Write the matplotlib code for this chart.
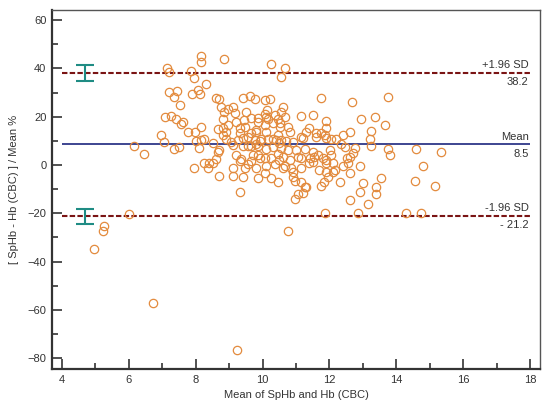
import matplotlib
matplotlib.use("Agg")
import matplotlib.pyplot as plt
from matplotlib.ticker import MultipleLocator

plt.rcParams['font.family'] = ['Liberation Sans', 'DejaVu Sans']

# Bland-Altman points: mean of SpHb and Hb (CBC), percent difference
x_mean = [6.14, 6.46, 7.14, 7.21, 7.19, 7.44, 7.36, 7.54, 7.09, 7.26,
          7.41, 7.61, 7.56, 6.96, 7.04, 7.36, 7.51, 7.86, 7.94, 8.16,
          8.16, 8.86, 7.89, 8.07, 8.12, 8.31, 7.77, 7.97, 8.16, 8.02,
          8.11, 8.26, 7.96, 8.26, 8.39, 8.36, 8.51, 8.61, 8.66, 8.51,
          8.71, 8.61, 8.71, 8.76, 8.86, 8.81, 8.96, 9.11, 8.96, 9.19,
          8.66, 8.81, 8.91, 9.04, 9.11, 9.21, 9.26, 9.31, 9.31, 9.44,
          9.51, 9.41, 9.61, 9.76, 9.11, 9.11, 9.31, 9.46, 9.56, 9.66,
          9.56, 9.66, 9.81, 9.71, 9.86, 9.56, 9.81, 9.66, 9.86, 9.31,
          9.86, 10.06, 10.26, 10.14, 10.10, 8.81, 8.91, 8.16, 10.66, 10.56,
          11.76, 12.66, 13.76, 10.61, 10.54, 11.16, 11.51, 11.91, 12.95, 13.35,
          13.65, 13.25, 11.91, 11.40, 11.31, 11.61, 11.76, 11.86, 11.16, 12.06,
          12.21, 12.40, 12.60, 13.20, 13.25, 12.35, 12.45, 12.75, 13.75, 13.80,
          14.60, 15.35, 10.76, 11.55, 11.50, 11.70, 11.90, 12.10, 12.10, 12.40,
          12.55, 12.60, 12.70, 12.90, 12.60, 13.00, 12.90, 12.60, 13.15, 13.40,
          13.40, 13.55, 14.55, 14.80, 15.15, 11.76, 11.85, 11.16, 11.26, 11.21,
          11.06, 10.96, 10.46, 12.31, 11.86, 12.85, 14.30, 14.75, 10.76, 5.99,
          5.27, 5.22, 4.97, 6.71, 9.22, 9.36, 9.41, 10.06, 10.26, 10.11,
          10.06, 10.26, 10.48, 10.61, 10.66, 10.84, 10.92, 10.96, 11.31, 11.91,
          11.95, 11.16, 11.40, 10.21, 9.16, 10.06, 10.36, 10.16, 10.46, 10.66,
          10.51, 10.31, 10.06, 9.86, 9.46, 9.66, 9.81, 10.11, 10.51, 10.81,
          10.46, 10.31, 10.56, 9.96, 9.76, 9.41, 11.91, 9.91, 10.16, 10.41,
          10.71, 10.91, 11.21, 11.61, 9.41, 9.86, 10.11, 10.31, 10.56, 10.76,
          11.01, 11.26, 11.51, 11.66, 11.81, 9.91, 10.46, 10.61, 10.81, 11.06,
          11.16, 11.41, 9.81, 10.36, 10.91, 8.71, 11.91, 12.01, 12.06, 12.16,
          12.51, 10.50]
y_diff = [7.9, 4.4, 40.3, 38.6, 30.4, 30.8, 28.3, 24.8, 19.7, 20.4,
          18.9, 17.9, 16.9, 12.4, 9.6, 6.6, 7.6, 39.0, 36.2, 45.1,
          42.8, 43.8, 29.3, 31.1, 29.3, 33.5, 13.8, 13.8, 15.6, 9.9,
          7.2, 10.6, -1.4, 1.0, 0.7, -1.4, 1.0, 2.4, 5.5, 9.0,
          -4.6, 27.6, 27.2, 23.9, 21.8, 19.0, 23.2, 23.9, 16.6, 17.9,
          14.8, 12.4, 10.8, 9.6, 8.3, 4.1, 10.4, 13.4, 15.2, 18.6,
          21.8, 27.6, 28.7, 27.3, -1.4, -4.4, 1.8, -1.4, 0.4, 1.8,
          8.0, 8.0, 8.7, 4.1, 4.1, 11.7, 14.5, 19.3, 19.3, -11.1,
          -5.5, 26.9, 41.8, 22.8, 20.0, 15.5, 13.5, 10.4, 40.0, 36.6,
          27.9, 26.0, 28.3, 24.1, 22.1, 20.3, 20.7, 18.3, 19.0, 19.7,
          16.6, 14.2, 15.2, 15.5, 13.8, 13.1, 13.1, 12.4, 11.7, 10.6,
          10.6, 12.4, 13.8, 10.6, 8.0, 8.7, 7.6, 6.9, 6.5, 4.1,
          6.5, 5.5, 15.9, 3.4, 1.4, -2.1, 0.8, 0.9, -3.0, -0.3,
          0.7, 3.4, 4.8, -0.3, -3.4, -7.6, -11.1, -14.5, -16.1, -9.2,
          -12.0, -5.5, -6.5, -0.3, -8.7, -8.7, -7.0, -6.9, -9.0, -11.7,
          -12.0, -14.2, -6.9, -6.9, -19.7, -19.7, -20.0, -20.0, -27.3, -20.4,
          -25.1, -27.3, -34.8, -57.0, -76.6, 2.5, -4.8, -3.4, -5.2, -0.3,
          2.8, 2.8, 2.0, -1.4, -0.5, -1.1, -2.8, -6.5, -9.2, -2.8,
          -5.0, -1.4, 0.7, 27.3, 21.4, 21.1, 20.7, 19.0, 19.0, 20.0,
          17.2, 17.2, 16.6, 17.7, 15.6, 13.1, 13.7, 13.5, 15.6, 13.5,
          12.4, 10.8, 10.4, 10.8, 10.4, 11.0, 11.0, 9.9, 10.8, 10.4,
          9.9, 9.4, 11.0, 11.7, 8.0, 8.0, 6.6, 7.6, 6.9, 6.2,
          6.2, 6.6, 5.5, 4.1, 3.0, 2.8, 4.4, 3.4, 2.1, 3.4,
          2.8, 2.8, -1.4, 0.3, -4.8, 6.2, 2.1, 6.2, 4.1, -2.1,
          2.8, 9.0]

bias = 8.5
upper_loa = 38.2
lower_loa = -21.2
# 95% CI of the limits of agreement
ci_x = [4.7, 4.7]
ci_center = [38.1, -21.4]
ci_low = [34.8, -24.6]
ci_high = [41.4, -18.2]

line_start, line_end = 4, 18

fig = plt.figure(figsize=(5.5, 4.07), dpi=100)
ax = fig.add_axes([0.0945, 0.0934, 0.8875, 0.882])

ax.plot(x_mean, y_diff, 'o', markersize=6.0, markerfacecolor='none',
        markeredgecolor='#E38B3E', markeredgewidth=0.9, zorder=3)

# limits and mean line
ax.hlines([upper_loa, lower_loa], line_start, line_end, colors='#7A1414',
          linestyles=(0, (2.6, 1.1)), linewidth=1.5, zorder=2)
ax.hlines(bias, line_start, line_end, colors='#2E3788', linewidth=1.3, zorder=2)

ax.errorbar(ci_x, ci_center,
            yerr=[[c - l for c, l in zip(ci_center, ci_low)],
                  [h - c for c, h in zip(ci_center, ci_high)]],
            fmt='none', ecolor='#1F8C84', elinewidth=1.5, capsize=6.5,
            capthick=1.5, zorder=4)

font = dict(fontsize=8, color='#333333')
for yv, top, bottom in [(upper_loa, '+1.96 SD', '38.2'),
                        (bias, 'Mean', '8.5'),
                        (lower_loa, '-1.96 SD', '- 21.2')]:
    ax.annotate(top, (line_end, yv), xytext=(-1, 2), textcoords='offset points',
                ha='right', va='bottom', **font)
    ax.annotate(bottom, (line_end, yv), xytext=(-1, -3), textcoords='offset points',
                ha='right', va='top', **font)

ax.set_xlim(3.7, 18.3)
ax.set_ylim(-84.5, 64.2)
ax.xaxis.set_major_locator(MultipleLocator(2))
ax.xaxis.set_minor_locator(MultipleLocator(1))
ax.yaxis.set_major_locator(MultipleLocator(20))
ax.yaxis.set_minor_locator(MultipleLocator(10))
ax.tick_params(which='both', direction='in', top=False, right=False,
               colors='#333333', labelsize=8, width=1.2)
ax.tick_params(which='major', length=7, pad=4)
ax.tick_params(which='minor', length=4)

for side in ['top', 'right']:
    ax.spines[side].set_color('#555555')
    ax.spines[side].set_linewidth(1.0)
for side in ['left', 'bottom']:
    ax.spines[side].set_color('#333333')
    ax.spines[side].set_linewidth(1.6)

ax.set_xlabel('Mean of SpHb and Hb (CBC)', fontsize=8, color='#333333', labelpad=4)
ax.set_ylabel('[ SpHb - Hb (CBC) ] / Mean %', fontsize=8, color='#333333', labelpad=6)

plt.savefig('out.png', dpi=100)
